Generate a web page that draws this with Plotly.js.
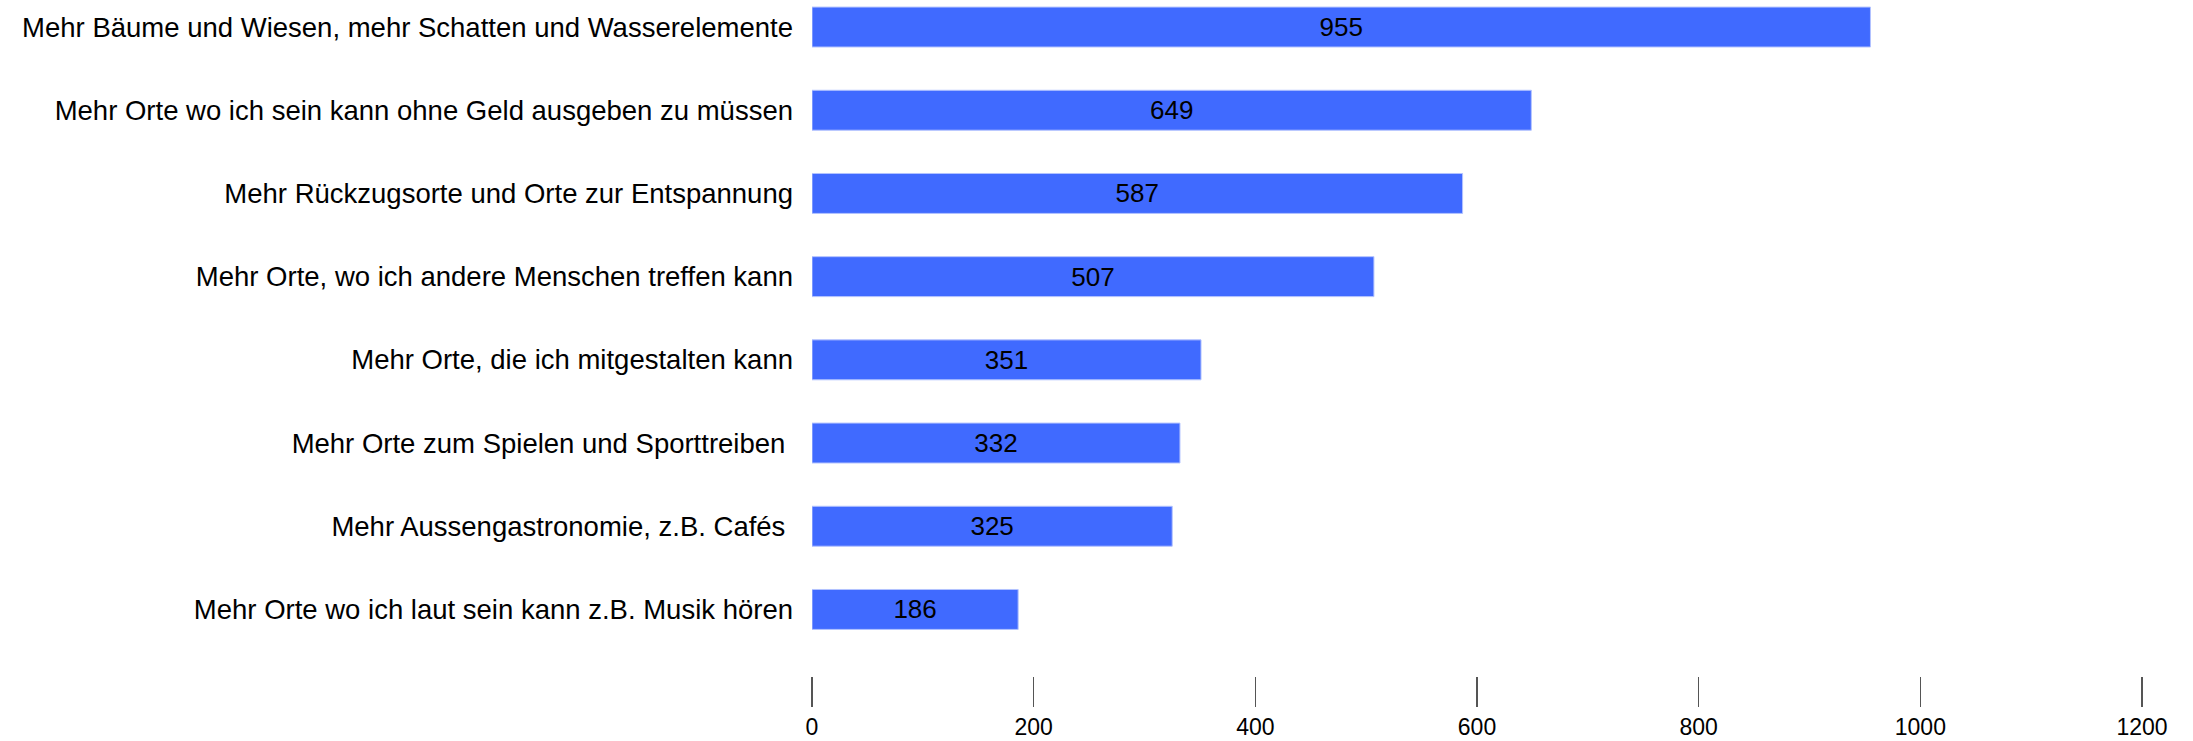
<!DOCTYPE html>
<html>
<head>
<meta charset="utf-8">
<script src="https://cdn.plot.ly/plotly-3.0.1.min.js"></script>
<style>
  html, body { margin: 0; padding: 0; background: #ffffff; }
  #chart { width: 2193px; height: 741px; }
</style>
</head>
<body>
<div id="chart"></div>
<script>
// Wishes for public space: number of mentions per answer
const categories = [
  "Mehr Bäume und Wiesen, mehr Schatten und Wasserelemente",
  "Mehr Orte wo ich sein kann ohne Geld ausgeben zu müssen",
  "Mehr Rückzugsorte und Orte zur Entspannung",
  "Mehr Orte, wo ich andere Menschen treffen kann",
  "Mehr Orte, die ich mitgestalten kann",
  "Mehr Orte zum Spielen und Sporttreiben\u00a0",
  "Mehr Aussengastronomie, z.B. Cafés\u00a0",
  "Mehr Orte wo ich laut sein kann z.B. Musik hören"
];
const counts = [955, 649, 587, 507, 351, 332, 325, 186];
const xTickValues = [0, 200, 400, 600, 800, 1000, 1200];

const font = "Liberation Sans, Arial, Helvetica, sans-serif";

const trace = {
  type: "bar",
  orientation: "h",
  y: categories,
  x: counts,
  text: counts.map(String),
  textposition: "inside",
  insidetextanchor: "middle",
  textangle: 0,
  textfont: { family: font, size: 26, color: "#000000" },
  marker: { color: "#406aff", line: { color: "#b3c3ff", width: 1 } },
  width: 0.48,
  hoverinfo: "skip"
};

const layout = {
  width: 2193,
  height: 741,
  margin: { l: 812, r: 51, t: 0, b: 65, pad: 0 },
  paper_bgcolor: "#ffffff",
  plot_bgcolor: "#ffffff",
  showlegend: false,
  font: { family: font, size: 26, color: "#000000" },
  xaxis: {
    range: [0, 1200],
    tickvals: xTickValues,
    ticktext: xTickValues.map(String),
    showgrid: false,
    zeroline: false,
    showline: false,
    ticks: "outside",
    ticklen: 30,
    tickwidth: 1.2,
    tickcolor: "#555555",
    tickfont: { family: font, size: 23, color: "#000000" },
    fixedrange: true
  },
  yaxis: {
    type: "category",
    categoryorder: "array",
    categoryarray: categories,
    range: [7.80, -0.325],
    showgrid: false,
    zeroline: false,
    showline: false,
    ticks: "",
    ticklabelstandoff: 18,
    tickfont: { family: font, size: 27.5, color: "#000000" },
    fixedrange: true
  }
};

Plotly.newPlot("chart", [trace], layout, { displayModeBar: false, staticPlot: true });
</script>
</body>
</html>
